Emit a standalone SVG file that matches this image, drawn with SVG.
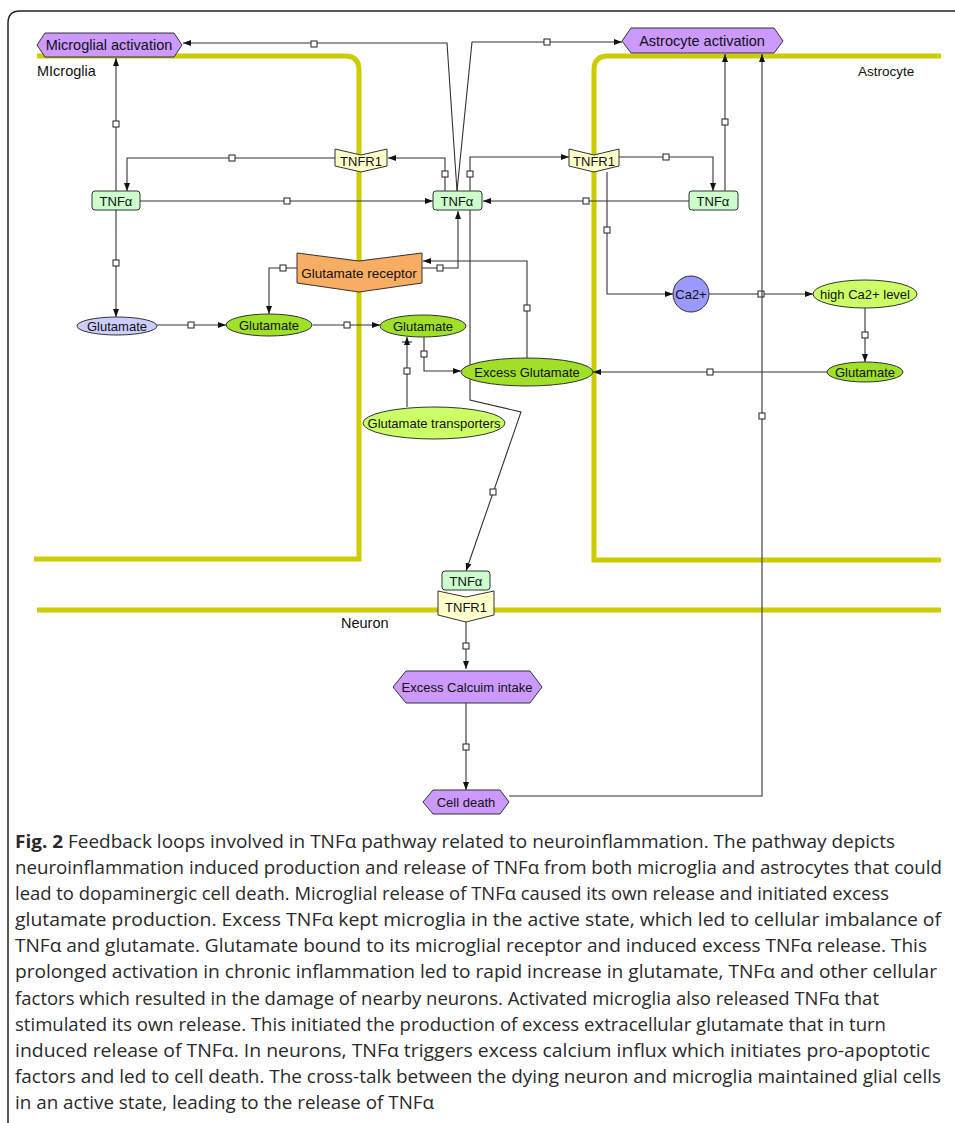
<svg xmlns="http://www.w3.org/2000/svg" xmlns:xlink="http://www.w3.org/1999/xlink" width="955" height="1123" viewBox="0 0 955 1123">
<style>
.comp{fill:none;stroke:#cccc00;stroke-width:5}
.frame{fill:none;stroke:#222;stroke-width:1.5}
.c{fill:none;stroke:#333;stroke-width:1.1}
.sq{fill:#fff;stroke:#222;stroke-width:1}
.nd{stroke:#333;stroke-width:1}
.t{font-family:"Liberation Sans",Arial,sans-serif;font-size:13px;fill:#111;text-anchor:middle;dominant-baseline:central}
.big{font-size:14.5px}
.lab{font-family:"Liberation Sans",Arial,sans-serif;font-size:14.5px;fill:#111}
.cap{font-family:"Open Sans","Noto Sans",sans-serif;font-size:17.5px;fill:#2a2a2a}
.tnf{fill:#ccffcc}
.tnfr{fill:#ffffcc}
.act{fill:#cc99ff}
.glu{fill:#a0e028}
.glul{fill:#ccff66}
</style>
<defs>
<marker id="ar" markerWidth="8" markerHeight="6" refX="8" refY="3" orient="auto" markerUnits="userSpaceOnUse">
<path d="M0,0 L8,3 L0,6 Z" fill="#111"/>
</marker>
<marker id="arb" markerWidth="8" markerHeight="10" refX="8" refY="5" orient="auto" markerUnits="userSpaceOnUse">
<path d="M0,2 L8,5 L0,8 Z" fill="#111"/>
<path d="M3,0 L3,10" stroke="#111" stroke-width="1"/>
</marker>
<rect id="sq" x="-3" y="-3" width="6" height="6" class="sq"/>
</defs>

<rect width="955" height="1123" fill="#fff"/>
<path class="frame" d="M8,1123 V23 Q8,11 20,11 H955"/>

<!-- compartments -->
<g id="compartments">
<path class="comp" d="M37,56 H345 Q359,56 359,70 V559 H34"/>
<path class="comp" d="M941,56 H608 Q594,56 594,70 V560 H941"/>
<path class="comp" d="M37,610 H941"/>
<text class="lab" x="37" y="76">MIcroglia</text>
<text class="lab" x="858" y="76" style="font-size:13.5px">Astrocyte</text>
<text class="lab" x="341" y="628">Neuron</text>
</g>

<!-- connectors -->
<g id="connectors">
<path class="c" d="M116,191 V58" marker-end="url(#ar)"/>
<use href="#sq" x="116" y="124"/>
<path class="c" d="M140,201 H433" marker-end="url(#ar)"/>
<use href="#sq" x="287" y="201"/>
<path class="c" d="M116,210 V317" marker-end="url(#ar)"/>
<use href="#sq" x="116" y="263"/>
<path class="c" d="M335,158 H127 V191" marker-end="url(#ar)"/>
<use href="#sq" x="232" y="158"/>
<path class="c" d="M445,191 V158 H388" marker-end="url(#ar)"/>
<use href="#sq" x="445" y="174"/>
<path class="c" d="M457,191 L447,43 H183" marker-end="url(#ar)"/>
<use href="#sq" x="314" y="44"/>
<path class="c" d="M457,191 L472,42 H622" marker-end="url(#ar)"/>
<use href="#sq" x="547" y="42"/>
<path class="c" d="M470,191 V157 H569" marker-end="url(#ar)"/>
<use href="#sq" x="470" y="174"/>
<path class="c" d="M619,157 H713 V191" marker-end="url(#ar)"/>
<use href="#sq" x="666" y="157"/>
<path class="c" d="M725,191 V54" marker-end="url(#ar)"/>
<use href="#sq" x="725" y="122"/>
<path class="c" d="M689,201 H483" marker-end="url(#ar)"/>
<use href="#sq" x="586" y="201"/>
<path class="c" d="M607,172 V294 H673" marker-end="url(#ar)"/>
<use href="#sq" x="607" y="230"/>
<path class="c" d="M709,294 H813" marker-end="url(#ar)"/>
<use href="#sq" x="761" y="294"/>
<path class="c" d="M865,308 V362" marker-end="url(#ar)"/>
<use href="#sq" x="865" y="335"/>
<path class="c" d="M827,372 H593" marker-end="url(#ar)"/>
<use href="#sq" x="710" y="372"/>
<path class="c" d="M509,796 H762 V54" marker-end="url(#ar)"/>
<use href="#sq" x="762" y="416"/>
<path class="c" d="M422,268 H458 V211" marker-end="url(#ar)"/>
<use href="#sq" x="440" y="268"/>
<path class="c" d="M527,358 V261 H423" marker-end="url(#ar)"/>
<use href="#sq" x="527" y="308"/>
<path class="c" d="M297,268 H269 V314" marker-end="url(#ar)"/>
<use href="#sq" x="283" y="268"/>
<path class="c" d="M157,325 H226" marker-end="url(#ar)"/>
<use href="#sq" x="191" y="325"/>
<path class="c" d="M313,325 H380" marker-end="url(#ar)"/>
<use href="#sq" x="347" y="325"/>
<path class="c" d="M424,337 V371 H461" marker-end="url(#ar)"/>
<use href="#sq" x="424" y="354"/>
<path class="c" d="M407,407 V337" marker-end="url(#arb)"/>
<use href="#sq" x="407" y="371"/>
<path class="c" d="M470,210 V400 L521,412 L466,571" marker-end="url(#ar)"/>
<use href="#sq" x="493" y="492"/>
<path class="c" d="M466,622 V669" marker-end="url(#ar)"/>
<use href="#sq" x="466" y="646"/>
<path class="c" d="M466,703 V790" marker-end="url(#ar)"/>
<use href="#sq" x="466" y="747"/>
</g>

<!-- nodes -->
<g id="microglial-activation">
<polygon class="nd act" points="37,45 45,33 174,33 182,45 174,57 45,57"/>
<text class="t big" x="109" y="45">Microglial activation</text>
</g>
<g id="astrocyte-activation">
<polygon class="nd act" points="622,41 631,28 774,28 783,41 774,53 631,53"/>
<text class="t big" x="702" y="41">Astrocyte activation</text>
</g>
<g id="tnfa-microglia">
<rect class="nd tnf" x="92" y="191" width="48" height="19" rx="3"/>
<text class="t" x="116" y="201">TNFα</text>
</g>
<g id="tnfr1-left">
<polygon class="nd tnfr" points="335,149 361,155 387,149 387,166 361,172 335,166"/>
<text class="t" x="361" y="161">TNFR1</text>
</g>
<g id="tnfa-center">
<rect class="nd tnf" x="433" y="191" width="49" height="19" rx="3"/>
<text class="t" x="457" y="201">TNFα</text>
</g>
<g id="tnfr1-right">
<polygon class="nd tnfr" points="569,149 594,155 619,149 619,166 594,172 569,166"/>
<text class="t" x="594" y="161">TNFR1</text>
</g>
<g id="tnfa-astrocyte">
<rect class="nd tnf" x="689" y="191" width="49" height="19" rx="3"/>
<text class="t" x="713" y="201">TNFα</text>
</g>
<g id="glutamate-receptor">
<polygon class="nd" fill="#f9ad62" points="297,253 359,261 422,253 422,283 359,292 297,283"/>
<text class="t" x="359" y="273" style="font-size:13.5px">Glutamate receptor</text>
</g>
<g id="glutamate-1">
<ellipse class="nd" fill="#ccccff" cx="117" cy="326" rx="40" ry="9"/>
<text class="t" x="117" y="326">Glutamate</text>
</g>
<g id="glutamate-2">
<ellipse class="nd glu" cx="269" cy="325" rx="43" ry="11"/>
<text class="t" x="269" y="325">Glutamate</text>
</g>
<g id="glutamate-3">
<ellipse class="nd glu" cx="423" cy="326" rx="43" ry="11"/>
<text class="t" x="423" y="326">Glutamate</text>
</g>
<g id="excess-glutamate">
<ellipse class="nd glu" cx="527" cy="372" rx="66" ry="14"/>
<text class="t" x="527" y="372">Excess Glutamate</text>
</g>
<g id="glutamate-transporters">
<ellipse class="nd glul" cx="434" cy="423" rx="71" ry="16"/>
<text class="t" x="434" y="423">Glutamate transporters</text>
</g>
<g id="ca2">
<circle class="nd" fill="#9999ff" cx="691" cy="294" r="18"/>
<text class="t" x="691" y="294">Ca2+</text>
</g>
<g id="high-ca2">
<ellipse class="nd glul" cx="865" cy="294" rx="52" ry="14"/>
<text class="t" x="865" y="294">high Ca2+ level</text>
</g>
<g id="glutamate-astrocyte">
<ellipse class="nd glu" cx="865" cy="372" rx="38" ry="10"/>
<text class="t" x="865" y="372">Glutamate</text>
</g>
<g id="tnfa-neuron">
<rect class="nd tnf" x="442" y="571" width="48" height="19" rx="3"/>
<text class="t" x="466" y="581">TNFα</text>
</g>
<g id="tnfr1-neuron">
<polygon class="nd tnfr" points="438,591 466,597 494,591 494,615 466,622 438,615"/>
<text class="t" x="466" y="607">TNFR1</text>
</g>
<g id="excess-calcium">
<polygon class="nd act" points="393,687 406,671 530,671 542,687 530,703 406,703"/>
<text class="t" x="467" y="687">Excess Calcuim intake</text>
</g>
<g id="cell-death">
<polygon class="nd act" points="423,802 433,790 500,790 509,802 500,814 433,814"/>
<text class="t" x="466" y="802">Cell death</text>
</g>

<!-- caption -->
<g id="caption">
<text class="cap" x="15" y="848" textLength="880" lengthAdjust="spacingAndGlyphs"><tspan font-weight="bold">Fig. 2</tspan> Feedback loops involved in TNFα pathway related to neuroinflammation. The pathway depicts</text>
<text class="cap" x="15" y="874" textLength="927" lengthAdjust="spacingAndGlyphs">neuroinflammation induced production and release of TNFα from both microglia and astrocytes that could</text>
<text class="cap" x="15" y="900" textLength="874" lengthAdjust="spacingAndGlyphs">lead to dopaminergic cell death. Microglial release of TNFα caused its own release and initiated excess</text>
<text class="cap" x="15" y="926" textLength="926" lengthAdjust="spacingAndGlyphs">glutamate production. Excess TNFα kept microglia in the active state, which led to cellular imbalance of</text>
<text class="cap" x="15" y="952" textLength="912" lengthAdjust="spacingAndGlyphs">TNFα and glutamate. Glutamate bound to its microglial receptor and induced excess TNFα release. This</text>
<text class="cap" x="15" y="978" textLength="922" lengthAdjust="spacingAndGlyphs">prolonged activation in chronic inflammation led to rapid increase in glutamate, TNFα and other cellular</text>
<text class="cap" x="15" y="1005" textLength="864" lengthAdjust="spacingAndGlyphs">factors which resulted in the damage of nearby neurons. Activated microglia also released TNFα that</text>
<text class="cap" x="15" y="1031" textLength="871" lengthAdjust="spacingAndGlyphs">stimulated its own release. This initiated the production of excess extracellular glutamate that in turn</text>
<text class="cap" x="15" y="1057" textLength="915" lengthAdjust="spacingAndGlyphs">induced release of TNFα. In neurons, TNFα triggers excess calcium influx which initiates pro-apoptotic</text>
<text class="cap" x="15" y="1083" textLength="926" lengthAdjust="spacingAndGlyphs">factors and led to cell death. The cross-talk between the dying neuron and microglia maintained glial cells</text>
<text class="cap" x="15" y="1109" textLength="419" lengthAdjust="spacingAndGlyphs">in an active state, leading to the release of TNFα</text>
</g>
</svg>
